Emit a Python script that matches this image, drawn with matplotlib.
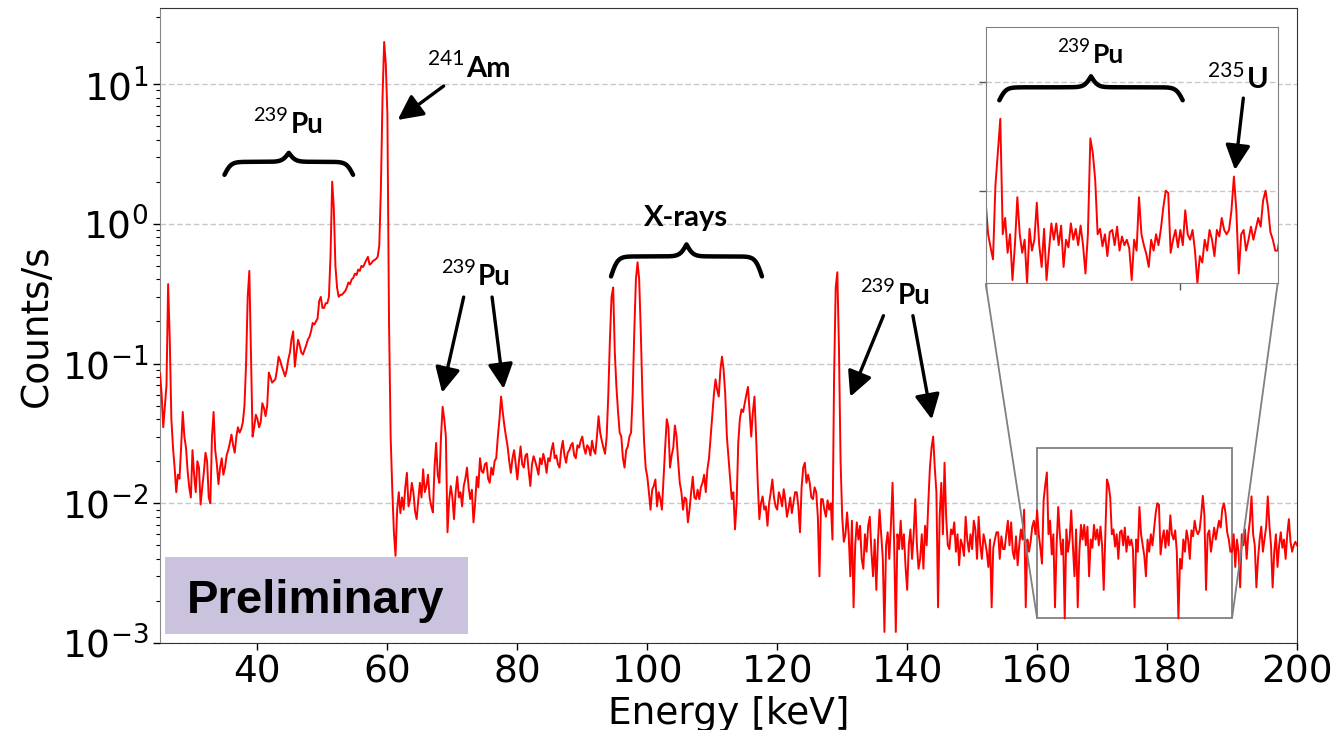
import numpy as np
import matplotlib
matplotlib.use('Agg')
import matplotlib.pyplot as plt
from matplotlib.patches import Rectangle
from mpl_toolkits.axes_grid1.inset_locator import mark_inset

# spectrum, 0.25 keV bins starting at 25 keV (counts/s)
e_start = 25.0
e_step = 0.25
counts_25_60 = [
    0.085, 0.06, 0.035, 0.05, 0.07, 0.37, 0.15, 0.04, 0.025, 0.018, 0.012, 0.016, 0.015, 0.025, 0.045, 0.03, 0.025, 0.017, 0.013, 0.011,
    0.024, 0.016, 0.012, 0.02, 0.018, 0.0098, 0.013, 0.0166, 0.023, 0.02, 0.011, 0.01, 0.03, 0.045, 0.024, 0.019, 0.0137, 0.018, 0.021, 0.016,
    0.018, 0.022, 0.024, 0.027, 0.031, 0.026, 0.023, 0.03, 0.035, 0.032, 0.034, 0.038, 0.05, 0.1, 0.3, 0.46, 0.12, 0.03, 0.035, 0.043,
    0.04, 0.035, 0.038, 0.052, 0.048, 0.042, 0.05, 0.086, 0.08, 0.073, 0.075, 0.077, 0.09, 0.112, 0.105, 0.095, 0.088, 0.081, 0.09, 0.107,
    0.12, 0.15, 0.17, 0.095, 0.12, 0.148, 0.135, 0.12, 0.116, 0.125, 0.135, 0.148, 0.155, 0.17, 0.195, 0.19, 0.2, 0.21, 0.28, 0.3,
    0.25, 0.25, 0.27, 0.27, 0.3, 0.6, 2.0, 1.3, 0.5, 0.35, 0.3, 0.31, 0.31, 0.32, 0.33, 0.35, 0.38, 0.37, 0.4, 0.41,
    0.44, 0.43, 0.47, 0.46, 0.5, 0.49, 0.52, 0.55, 0.58, 0.51, 0.52, 0.54, 0.55, 0.56, 0.58, 0.7, 1.8, 8.0, 20.0, 14.0,
]
counts_60_95 = [
    6.0, 0.2, 0.03, 0.0126, 0.0062, 0.0042, 0.009, 0.012, 0.0085, 0.011, 0.009, 0.013, 0.0165, 0.0095, 0.0107, 0.014, 0.012, 0.0088, 0.0077, 0.0105,
    0.014, 0.011, 0.0175, 0.012, 0.0133, 0.016, 0.011, 0.0095, 0.0086, 0.018, 0.027, 0.016, 0.014, 0.03, 0.049, 0.04, 0.03, 0.0062, 0.0105, 0.0133,
    0.011, 0.0077, 0.012, 0.0155, 0.011, 0.012, 0.0095, 0.0133, 0.015, 0.018, 0.013, 0.0107, 0.0125, 0.0073, 0.01, 0.0155, 0.013, 0.021, 0.017, 0.0165,
    0.019, 0.0195, 0.015, 0.014, 0.018, 0.016, 0.02, 0.021, 0.03, 0.04, 0.058, 0.045, 0.036, 0.03, 0.0255, 0.02, 0.0165, 0.021, 0.024, 0.019,
    0.0148, 0.02, 0.0255, 0.019, 0.018, 0.022, 0.0226, 0.017, 0.0133, 0.019, 0.0217, 0.02, 0.018, 0.016, 0.021, 0.019, 0.0226, 0.02, 0.0165, 0.021,
    0.02, 0.024, 0.027, 0.021, 0.022, 0.019, 0.018, 0.024, 0.028, 0.022, 0.0195, 0.023, 0.024, 0.026, 0.027, 0.022, 0.021, 0.026, 0.025, 0.028,
    0.03, 0.025, 0.0226, 0.026, 0.025, 0.022, 0.028, 0.024, 0.0226, 0.03, 0.042, 0.032, 0.028, 0.025, 0.0226, 0.03, 0.06, 0.15, 0.3, 0.35,
]
counts_95_130 = [
    0.12, 0.068, 0.045, 0.032, 0.03, 0.021, 0.018, 0.024, 0.0255, 0.03, 0.032, 0.06, 0.17, 0.4, 0.53, 0.4, 0.17, 0.06, 0.028, 0.018,
    0.0155, 0.012, 0.009, 0.0125, 0.0133, 0.0148, 0.0095, 0.012, 0.0107, 0.009, 0.015, 0.025, 0.04, 0.035, 0.018, 0.022, 0.025, 0.036, 0.03, 0.02,
    0.014, 0.012, 0.009, 0.011, 0.0107, 0.0073, 0.009, 0.012, 0.0155, 0.011, 0.0107, 0.0125, 0.0107, 0.013, 0.014, 0.016, 0.012, 0.0175, 0.021, 0.03,
    0.042, 0.06, 0.077, 0.065, 0.058, 0.09, 0.112, 0.09, 0.06, 0.03, 0.021, 0.015, 0.0107, 0.012, 0.0065, 0.01, 0.027, 0.04, 0.047, 0.045,
    0.052, 0.06, 0.068, 0.045, 0.03, 0.045, 0.058, 0.03, 0.014, 0.0077, 0.01, 0.0112, 0.009, 0.0095, 0.0069, 0.01, 0.012, 0.0148, 0.011, 0.0095,
    0.009, 0.012, 0.011, 0.0095, 0.0126, 0.0105, 0.008, 0.0092, 0.011, 0.0085, 0.0101, 0.012, 0.012, 0.0095, 0.0062, 0.013, 0.018, 0.0195, 0.014, 0.016,
    0.014, 0.011, 0.0107, 0.013, 0.012, 0.008, 0.003, 0.0107, 0.0107, 0.009, 0.008, 0.0105, 0.009, 0.01, 0.0055, 0.08, 0.35, 0.45, 0.13, 0.02,
]
counts_130_165 = [
    0.008, 0.0053, 0.006, 0.0086, 0.006, 0.003, 0.0075, 0.0018, 0.005, 0.0073, 0.0055, 0.0069, 0.004, 0.0034, 0.006, 0.0045, 0.0069, 0.008, 0.0045, 0.003,
    0.0055, 0.0024, 0.0053, 0.009, 0.006, 0.004, 0.0012, 0.005, 0.0062, 0.004, 0.007, 0.014, 0.005, 0.0012, 0.006, 0.0047, 0.0075, 0.0047, 0.006, 0.0035,
    0.0024, 0.005, 0.0065, 0.004, 0.006, 0.0107, 0.005, 0.0034, 0.004, 0.006, 0.0034, 0.0069, 0.005, 0.01, 0.018, 0.025, 0.03, 0.018, 0.012, 0.0018,
    0.008, 0.014, 0.006, 0.0195, 0.008, 0.005, 0.0047, 0.0065, 0.006, 0.0073, 0.0045, 0.006, 0.0036, 0.0055, 0.005, 0.0042, 0.008, 0.0055, 0.0045, 0.006,
    0.0047, 0.0075, 0.0065, 0.004, 0.008, 0.005, 0.004, 0.006, 0.0053, 0.0045, 0.0035, 0.0055, 0.0018, 0.0048, 0.0055, 0.0062, 0.0062, 0.004, 0.0058, 0.0047,
    0.0047, 0.006, 0.0075, 0.005, 0.0073, 0.0045, 0.004, 0.0058, 0.0036, 0.005, 0.0065, 0.0055, 0.009, 0.0018, 0.0055, 0.0045, 0.0053, 0.0068, 0.0075, 0.006,
    0.0089, 0.006, 0.0048, 0.0037, 0.0105, 0.0135, 0.0166, 0.006, 0.0075, 0.0043, 0.006, 0.0018, 0.005, 0.0094, 0.006, 0.0043, 0.0055, 0.0015, 0.0065, 0.0045,
]
counts_165_200 = [
    0.0055, 0.0089, 0.005, 0.003, 0.0065, 0.0018, 0.0045, 0.007, 0.0055, 0.007, 0.005, 0.0068, 0.003, 0.0055, 0.0048, 0.007, 0.0055, 0.0065, 0.005, 0.0068,
    0.005, 0.0024, 0.006, 0.0148, 0.0135, 0.011, 0.006, 0.0065, 0.0049, 0.006, 0.004, 0.0062, 0.0064, 0.005, 0.0067, 0.0045, 0.0058, 0.005, 0.0055, 0.0047,
    0.0018, 0.0055, 0.0045, 0.0094, 0.006, 0.005, 0.0042, 0.003, 0.0055, 0.0045, 0.006, 0.005, 0.0065, 0.0085, 0.01, 0.0098, 0.0043, 0.0055, 0.0064, 0.0048,
    0.0064, 0.005, 0.0082, 0.006, 0.0055, 0.0064, 0.0045, 0.0015, 0.004, 0.0034, 0.0055, 0.0045, 0.0064, 0.0055, 0.004, 0.0064, 0.0058, 0.0075, 0.0064, 0.006,
    0.0064, 0.0082, 0.0113, 0.0082, 0.0024, 0.006, 0.0064, 0.0045, 0.0055, 0.0067, 0.0055, 0.0065, 0.0075, 0.0067, 0.0091, 0.01, 0.0085, 0.0062, 0.0055, 0.0045,
    0.0045, 0.006, 0.0035, 0.0055, 0.0045, 0.0025, 0.006, 0.005, 0.0065, 0.004, 0.006, 0.0075, 0.0112, 0.006, 0.005, 0.0025, 0.004, 0.0055, 0.0068, 0.0045,
    0.0055, 0.0068, 0.0112, 0.007, 0.005, 0.0025, 0.0045, 0.006, 0.0035, 0.005, 0.0062, 0.0048, 0.0055, 0.004, 0.006, 0.0077, 0.0053, 0.0045, 0.005, 0.0053,
    0.005,
]
x_ticks = [40, 60, 80, 100, 120, 140, 160, 180, 200]

counts = np.array(counts_25_60 + counts_60_95 + counts_95_130
                  + counts_130_165 + counts_165_200)
energy = e_start + e_step * np.arange(len(counts))

RED = '#ff0000'
GRID = dict(linestyle=(0, (4, 2)), color='#c8c8c8', linewidth=1.0)


def curly_brace(axis, e0, e1, c_end, hook_px, tip_px, lw=3.2, k=0.3):
    p0 = axis.transData.transform((e0, c_end))
    p1 = axis.transData.transform((e1, c_end))
    half = (p1[0] - p0[0]) / 2
    u = np.linspace(0, half, 200)
    s = (2 * hook_px * (1 / (1 + np.exp(-k * u)) - 0.5)
         + 2 * tip_px / (1 + np.exp(-k * (u - half))))
    xs = np.concatenate([p0[0] + u, p1[0] - u[::-1]])
    ys = p0[1] + np.concatenate([s, s[::-1]])
    pts = axis.transAxes.inverted().transform(np.column_stack([xs, ys]))
    axis.plot(pts[:, 0], pts[:, 1], transform=axis.transAxes, color='black',
              lw=lw, solid_capstyle='round', clip_on=False, zorder=6)


def iso_label(axis, e, c, mass, symbol, size=20):
    axis.annotate(symbol, (e, c), ha='left', va='baseline', fontsize=size,
                  fontweight='bold', family='Lato', annotation_clip=False)
    axis.annotate(mass, (e, c), xytext=(-1.5, 8.4), textcoords='offset points',
                  ha='right', va='baseline', fontsize=size * 0.72,
                  family='Lato', annotation_clip=False)


def arrow(axis, start, tip):
    axis.annotate('', xy=tip, xytext=start, annotation_clip=False,
                  arrowprops=dict(arrowstyle='-|>', color='black', lw=2.4,
                                  mutation_scale=38, shrinkA=0, shrinkB=0))


fig = plt.figure(figsize=(13.38, 7.30), dpi=100)
ax = fig.add_axes([160 / 1338, 1 - 643 / 730, 1137 / 1338, 635 / 730])
ax.plot(energy, counts, color=RED, lw=1.4, zorder=3)
ax.set_yscale('log')
ax.set_xlim(25, 200)
ax.set_ylim(1e-3, 35)
ax.set_xticks(x_ticks)
ax.yaxis.grid(True, which='major', **GRID)
ax.set_axisbelow(True)
ax.tick_params(axis='both', which='major', labelsize=27, length=5, width=1)
ax.tick_params(axis='y', which='minor', length=3, width=0.8)
for side in ['top', 'right', 'bottom']:
    ax.spines[side].set_color('#333333')
ax.spines['left'].set_color('#888888')
ax.set_xlabel('Energy [keV]', fontsize=27, labelpad=4)
ax.set_ylabel('Counts/s', fontsize=27, labelpad=5)

# annotations
iso_label(ax, 72.15, 11.28, '241', 'Am', size=21)
arrow(ax, (68.66, 9.68), (61.58, 5.53))

iso_label(ax, 45.08, 4.49, '239', 'Pu')
curly_brace(ax, 34.92, 54.72, 2.24, 13, 9)

iso_label(ax, 73.89, 0.367, '239', 'Pu')
arrow(ax, (71.74, 0.299), (68.42, 0.0618))
arrow(ax, (76.11, 0.299), (77.89, 0.0659))

ax.text(99.43, 0.968, 'X-rays', ha='left', va='baseline', fontsize=21,
        fontweight='bold', family='Lato')
curly_brace(ax, 94.42, 117.65, 0.42, 20, 12)

iso_label(ax, 138.5, 0.268, '239', 'Pu')
arrow(ax, (136.35, 0.22), (131.23, 0.0578))
arrow(ax, (140.88, 0.22), (143.8, 0.0398))

ax.add_patch(Rectangle((0.0044, 0.0142), 0.2665, 0.1212, transform=ax.transAxes,
                       facecolor='#cbc3de', edgecolor='none', zorder=5))
ax.text(0.1372, 0.0468, 'Preliminary', transform=ax.transAxes, ha='center',
        va='baseline', fontsize=34, fontweight='bold', family='Liberation Sans',
        zorder=6)

# zoomed inset 160-190 keV, linear scale
axins = fig.add_axes([985.7 / 1338, 1 - 283.3 / 730, 292 / 1338, 256 / 730])
axins.plot(energy, counts, color=RED, lw=1.4)
axins.set_xlim(160, 190)
axins.set_ylim(0.0015, 0.025)
axins.set_xticks([160, 180])
axins.set_yticks([0.01, 0.02])
axins.set_xticklabels([])
axins.set_yticklabels([])
axins.yaxis.grid(True, **GRID)
axins.set_axisbelow(True)
axins.tick_params(length=5, width=1, color='#555555')
for sp in axins.spines.values():
    sp.set_color('#808080')
mark_inset(ax, axins, loc1=3, loc2=4, fc='none', ec='#808080', lw=1.3)

iso_label(axins, 171.0, 0.0217, '239', 'Pu', size=19)
curly_brace(axins, 161.4, 180.24, 0.0183, 13, 11)
iso_label(axins, 186.82, 0.0194, '235', 'U', size=21)
arrow(axins, (186.47, 0.0185), (185.61, 0.0119))

fig.savefig('out.png', dpi=100)
